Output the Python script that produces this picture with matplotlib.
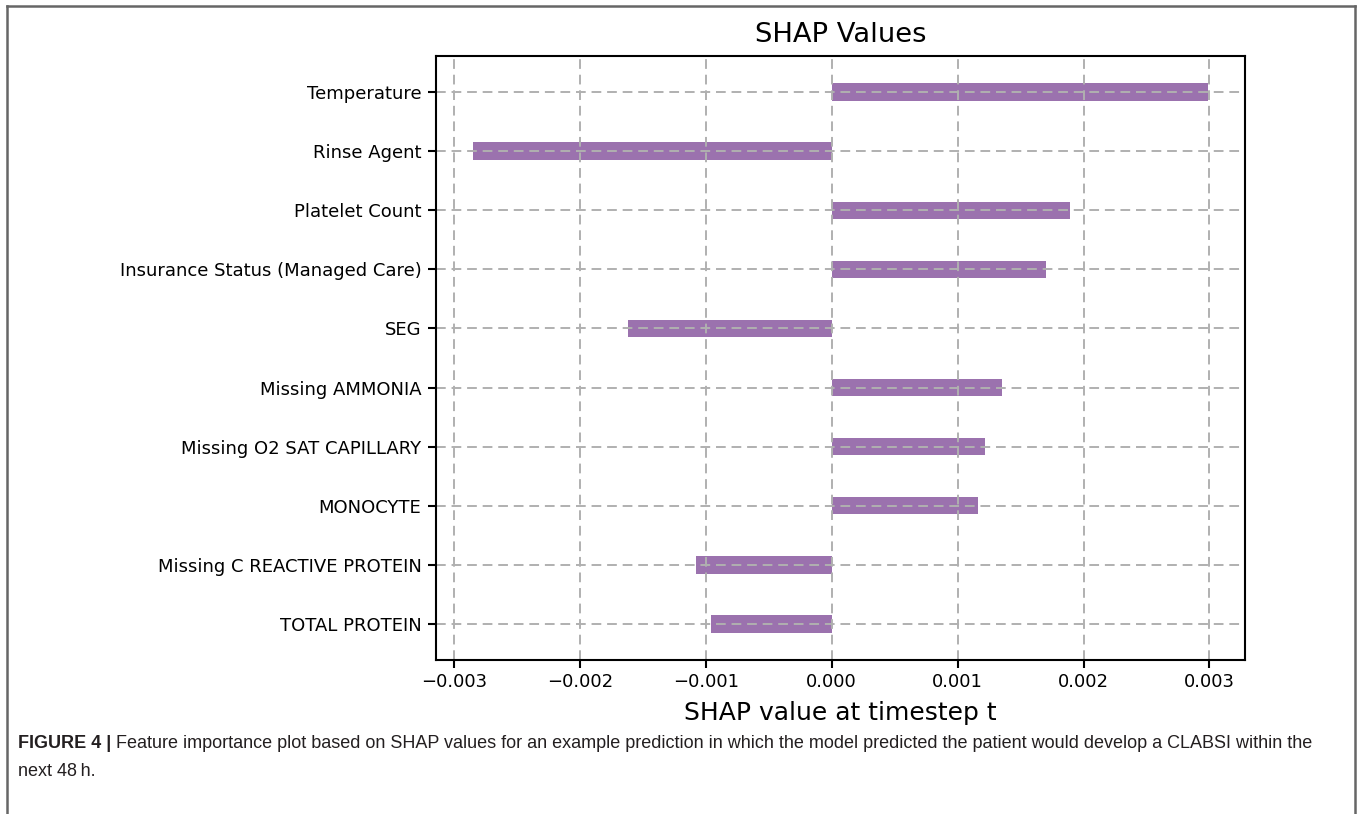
import matplotlib
matplotlib.use("Agg")
import matplotlib.pyplot as plt
from matplotlib.lines import Line2D

features = ["Temperature", "Rinse Agent", "Platelet Count", "Insurance Status (Managed Care)",
            "SEG", "Missing AMMONIA", "Missing O2 SAT CAPILLARY", "MONOCYTE",
            "Missing C REACTIVE PROTEIN", "TOTAL PROTEIN"]
shap_values = [0.00299, -0.00285, 0.00189, 0.00170, -0.00162, 0.00135, 0.00122, 0.00116,
               -0.00108, -0.00096]
xticks = [-0.003, -0.002, -0.001, 0.000, 0.001, 0.002, 0.003]

W, H = 1357, 814
fig = plt.figure(figsize=(W / 100, H / 100), dpi=100)
ax = fig.add_axes([436 / W, 1 - 660 / H, (1245 - 436) / W, (660 - 56) / H])

ypos = list(range(len(features)))
ax.barh(ypos, shap_values, height=0.3, color="#9b72ae", zorder=1)
ax.invert_yaxis()
ax.set_yticks(ypos)
ax.set_yticklabels(features, fontsize=13)
ax.set_xticks(xticks)
ax.set_xticklabels([f"{v:.3f}".replace("-", "\u2212") for v in xticks], fontsize=13)
ax.grid(True, linestyle=(0, (5, 3)), color="#b0b0b0", linewidth=1.4, zorder=2)
ax.set_axisbelow(False)
for s in ax.spines.values():
    s.set_linewidth(1.5)
    s.set_zorder(3)
ax.tick_params(length=6, width=1.5)
ax.tick_params(axis="y", pad=4.5)
ax.set_title("SHAP Values", fontsize=19.7, pad=10)
ax.set_xlabel("SHAP value at timestep t", fontsize=18, labelpad=7)

# outer frame
fc = "#666666"
fig.add_artist(Line2D([7 / W, 7 / W], [0, 1 - 6 / H], color=fc, lw=1.8, transform=fig.transFigure))
fig.add_artist(Line2D([7 / W, 1355 / W], [1 - 6 / H, 1 - 6 / H], color=fc, lw=1.8, transform=fig.transFigure))
fig.add_artist(Line2D([1355 / W, 1355 / W], [0, 1 - 6 / H], color=fc, lw=1.8, transform=fig.transFigure))

cap_font = ["Liberation Sans", "DejaVu Sans"]
t1 = fig.text(18 / W, 1 - 744 / H, "FIGURE 4 | ", fontsize=13, fontweight="bold",
              family=cap_font, color="#231f20", va="center")
fig.canvas.draw()
bb = t1.get_window_extent()
fig.text(bb.x1 / W, 1 - 744 / H,
         "Feature importance plot based on SHAP values for an example prediction in which the model predicted the patient would develop a CLABSI within the",
         fontsize=13, family=cap_font, color="#231f20", va="center")
fig.text(18 / W, 1 - 771 / H, "next 48\u2009h.", fontsize=13, family=cap_font, color="#231f20", va="center")

fig.savefig("out.png", dpi=100)
